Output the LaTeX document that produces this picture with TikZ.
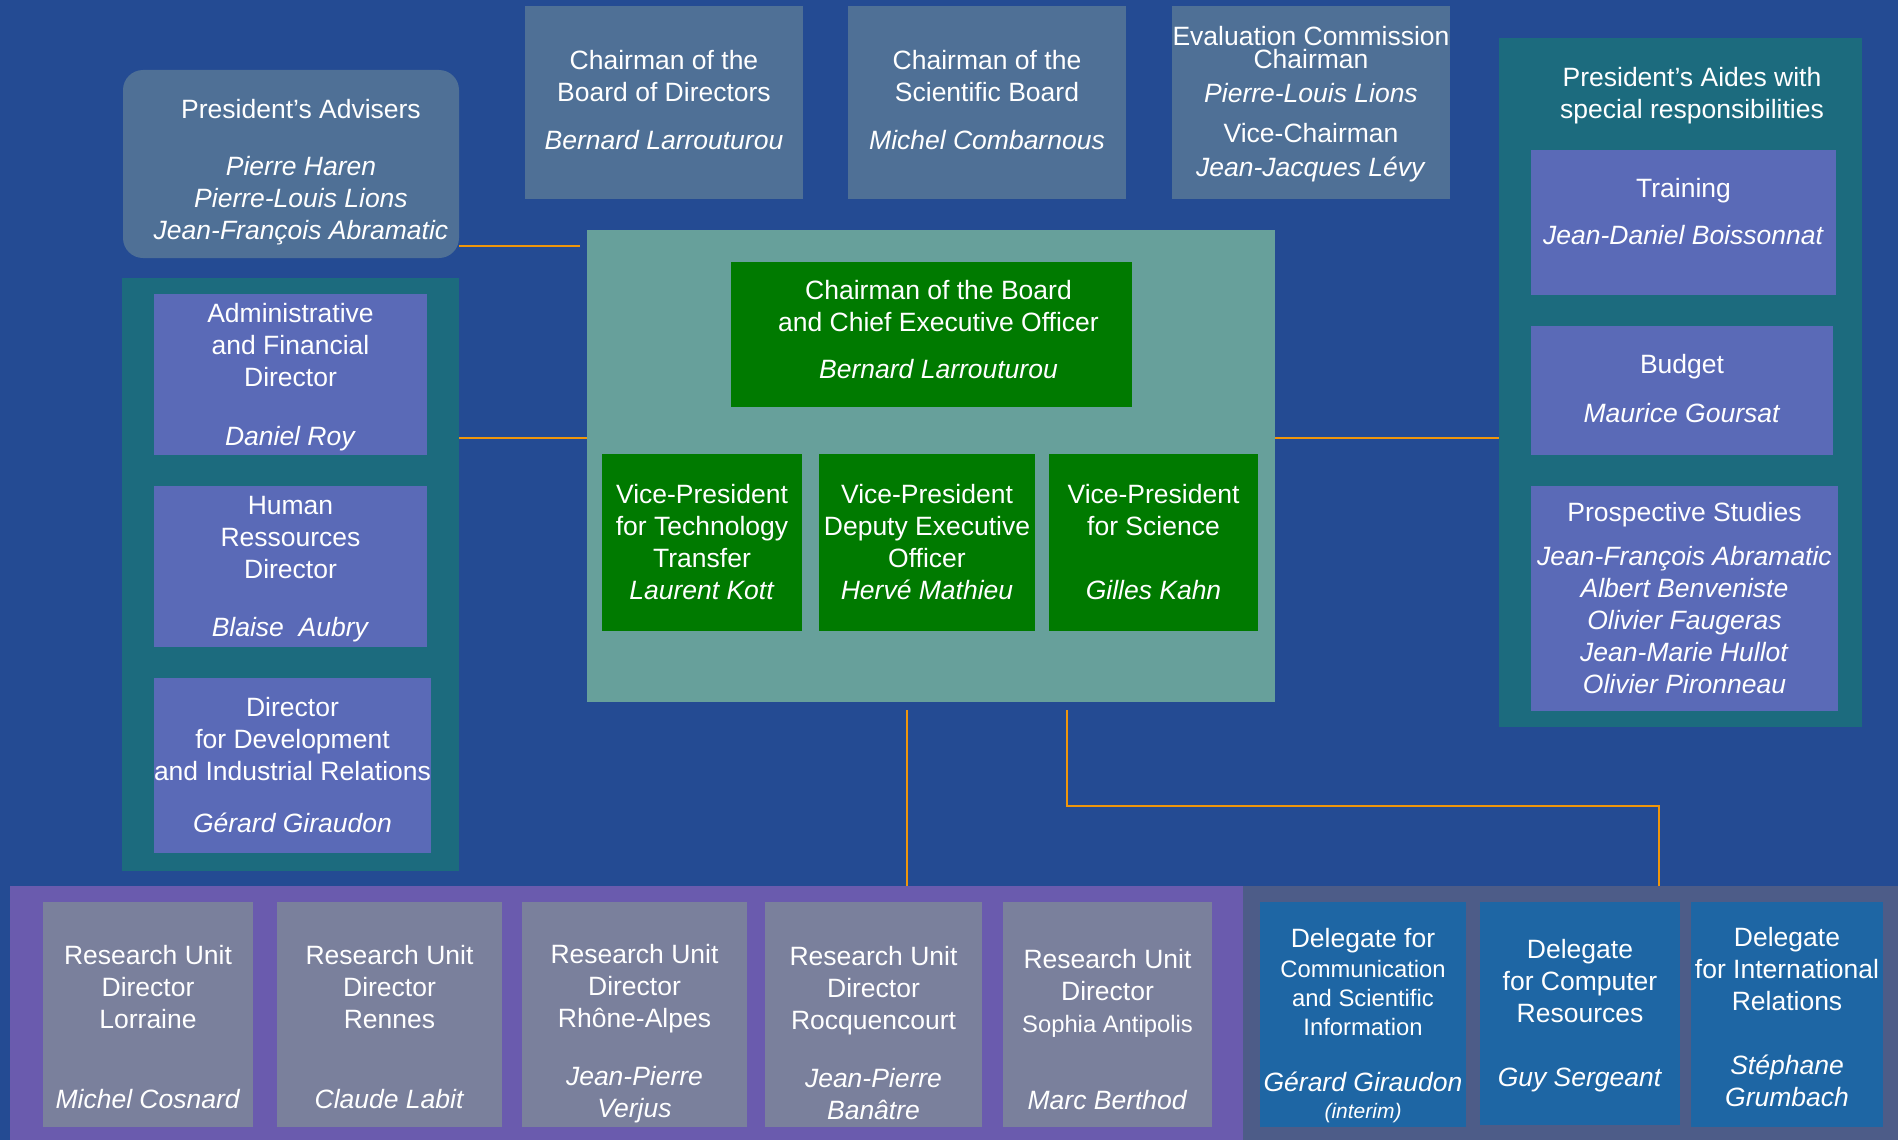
\documentclass[tikz,border=0pt]{standalone}
\usepackage{fontspec}
\setmainfont{Liberation Sans}
\usepackage{tikz}

\definecolor{bgblue}{HTML}{244B93}
\definecolor{slate}{HTML}{4F7096}
\definecolor{sage}{HTML}{67A09B}
\definecolor{leaf}{HTML}{007A00}
\definecolor{petrol}{HTML}{1C6B7E}
\definecolor{lilac}{HTML}{5A6AB7}
\definecolor{unitpanel}{HTML}{6A5BAE}
\definecolor{unitgrey}{HTML}{7A809C}
\definecolor{delepanel}{HTML}{4D5C88}
\definecolor{deleblue}{HTML}{1E66A4}
\definecolor{linkorange}{HTML}{F0960A}

\newcommand{\padtop}[1]{\rule{0pt}{#1}}
\newcommand{\padbot}[1]{\rule[-#1]{0pt}{#1}}
\newcommand{\smalltext}{\fontsize{23.8}{28}\selectfont}

\begin{document}
\begin{tikzpicture}[x=1pt, y=-1pt,
    font=\fontsize{26.5}{32}\selectfont, text=white,
    box/.style={anchor=north west, inner sep=0pt, outer sep=0pt, align=center},
    hdr/.style={inner sep=0pt, align=center},
    link/.style={draw=linkorange, line width=2.6pt}]
    \fill[bgblue] (0,0) rectangle (1898,1140);

    \node[box, fill=petrol, minimum width=337pt, minimum height=593pt] (lft) at (122,278) {};
    \node[box, fill=petrol, minimum width=363pt, minimum height=689pt] (rgt) at (1499,38) {};
    \node[box, fill=sage, minimum width=688pt, minimum height=472pt] (ctr) at (587,230) {};
    \node[box, fill=unitpanel, minimum width=1233pt, minimum height=254pt] (units) at (10,886) {};
    \node[box, fill=delepanel, minimum width=655pt, minimum height=254pt] (dele) at (1243,886) {};

    \node[box, fill=slate, rounded corners=20pt, minimum width=336pt, minimum height=188pt] (adv) at (123,70)
        {\padtop{35pt}\hspace*{20pt}President’s Advisers\\[25pt]\hspace*{20pt}\textit{Pierre Haren}\\\hspace*{20pt}\textit{Pierre-Louis Lions}\\\hspace*{20pt}\textit{Jean-François Abramatic}};
    \node[box, fill=slate, minimum width=278pt, minimum height=193pt] (brd) at (525,6)
        {Chairman of the\\Board of Directors\\[16pt]\textit{Bernard Larrouturou}\padbot{6pt}};
    \node[box, fill=slate, minimum width=278pt, minimum height=193pt] (sci) at (848,6)
        {Chairman of the\\Scientific Board\\[16pt]\textit{Michel Combarnous}\padbot{6pt}};
    \node[box, fill=slate, minimum width=278pt, minimum height=193pt] (evl) at (1172,6)
        {\padtop{23pt}Evaluation Commission\\[-9pt]Chairman\\[2pt]\textit{Pierre-Louis Lions}\\[8pt]Vice-Chairman\\[2pt]\textit{Jean-Jacques Lévy}};

    \node[hdr] (aides) at (1692,96) {President’s Aides with\\special responsibilities};
    \node[box, fill=lilac, minimum width=305pt, minimum height=145pt] (trn) at (1531,150)
        {Training\\[15pt]\textit{Jean-Daniel Boissonnat}\padbot{22pt}};
    \node[box, fill=lilac, minimum width=302pt, minimum height=129pt] (bud) at (1531,326)
        {Budget\\[17pt]\textit{Maurice Goursat}\padbot{5pt}};
    \node[box, fill=lilac, minimum width=307pt, minimum height=225pt] (pro) at (1531,486)
        {Prospective Studies\\[12pt]\textit{Jean-François Abramatic}\\\textit{Albert Benveniste}\\\textit{Olivier Faugeras}\\\textit{Jean-Marie Hullot}\\\textit{Olivier Pironneau}};

    \node[box, fill=lilac, minimum width=273pt, minimum height=161pt] (adm) at (154,294)
        {\padtop{24pt}Administrative\\and Financial\\Director\\[27pt]\textit{Daniel Roy}};
    \node[box, fill=lilac, minimum width=273pt, minimum height=161pt] (hrd) at (154,486)
        {\padtop{24pt}Human\\Ressources\\Director\\[26pt]\textit{Blaise\ \ Aubry}};
    \node[box, fill=lilac, minimum width=273pt, minimum height=175pt] (dev) at (154,678)
        {Director\\for Development\\and Industrial Relations\\[20pt]\textit{Gérard Giraudon}};

    \node[box, fill=leaf, minimum width=401pt, minimum height=145pt] (ceo) at (731,262)
        {\hspace*{14pt}Chairman of the Board\\\hspace*{14pt}and Chief Executive Officer\\[15pt]\hspace*{14pt}\textit{Bernard Larrouturou}\padbot{11pt}};
    \node[box, fill=leaf, minimum width=200pt, minimum height=177pt] (vp1) at (602,454)
        {Vice-President\\for Technology\\Transfer\\\textit{Laurent Kott}};
    \node[box, fill=leaf, minimum width=216pt, minimum height=177pt] (vp2) at (819,454)
        {Vice-President\\Deputy Executive\\Officer\\\textit{Hervé Mathieu}};
    \node[box, fill=leaf, minimum width=209pt, minimum height=177pt] (vp3) at (1049,454)
        {Vice-President\\for Science\\[32pt]\textit{Gilles Kahn}};

    \node[box, fill=unitgrey, minimum width=210pt, minimum height=225pt] (ru1) at (43,902)
        {\padtop{45pt}Research Unit\\Director\\Lorraine\\[48pt]\textit{Michel Cosnard}};
    \node[box, fill=unitgrey, minimum width=225pt, minimum height=225pt] (ru2) at (277,902)
        {\padtop{45pt}Research Unit\\Director\\Rennes\\[48pt]\textit{Claude Labit}};
    \node[box, fill=unitgrey, minimum width=225pt, minimum height=225pt] (ru3) at (522,902)
        {\padtop{58pt}Research Unit\\Director\\Rhône-Alpes\\[26pt]\textit{Jean-Pierre}\\\textit{Verjus}};
    \node[box, fill=unitgrey, minimum width=217pt, minimum height=225pt] (ru4) at (765,902)
        {\padtop{57pt}Research Unit\\Director\\Rocquencourt\\[26pt]\textit{Jean-Pierre}\\\textit{Banâtre}};
    \node[box, fill=unitgrey, minimum width=209pt, minimum height=225pt] (ru5) at (1003,902)
        {\padtop{50pt}Research Unit\\Director\\{\smalltext Sophia Antipolis}\\[45pt]\textit{Marc Berthod}};

    \node[box, fill=deleblue, minimum width=206pt, minimum height=225pt] (del1) at (1260,902)
        {\padtop{41pt}Delegate for\\[-2pt]{\smalltext Communication}\\[-3pt]{\smalltext and Scientific}\\[-3pt]{\smalltext Information}\\[24pt]\textit{Gérard Giraudon}\\[-5pt]{\fontsize{21}{25}\selectfont\textit{(interim)}}};
    \node[box, fill=deleblue, minimum width=200pt, minimum height=223pt] (del2) at (1480,902)
        {\padtop{24pt}Delegate\\for Computer\\Resources\\[32pt]\textit{Guy Sergeant}};
    \node[box, fill=deleblue, minimum width=192pt, minimum height=225pt] (del3) at (1691,902)
        {\padtop{24pt}Delegate\\for International\\Relations\\[32pt]\textit{Stéphane}\\\textit{Grumbach}};

    \coordinate (linkrow) at (0,438);
    \coordinate (dropa) at (907,710);
    \coordinate (dropb) at (1067,710);
    \coordinate (bend) at (1659,806);
    \draw[link, shorten >=7pt] (adv.south east) ++(0,-12) coordinate (advlink) -- (advlink -| ctr.west);
    \draw[link] (lft.east |- linkrow) -- (ctr.west |- linkrow);
    \draw[link] (ctr.east |- linkrow) -- (rgt.west |- linkrow);
    \draw[link] (dropa) -- (dropa |- units.north);
    \draw[link] (dropb) |- (bend) -- (bend |- dele.north);
\end{tikzpicture}
\end{document}
